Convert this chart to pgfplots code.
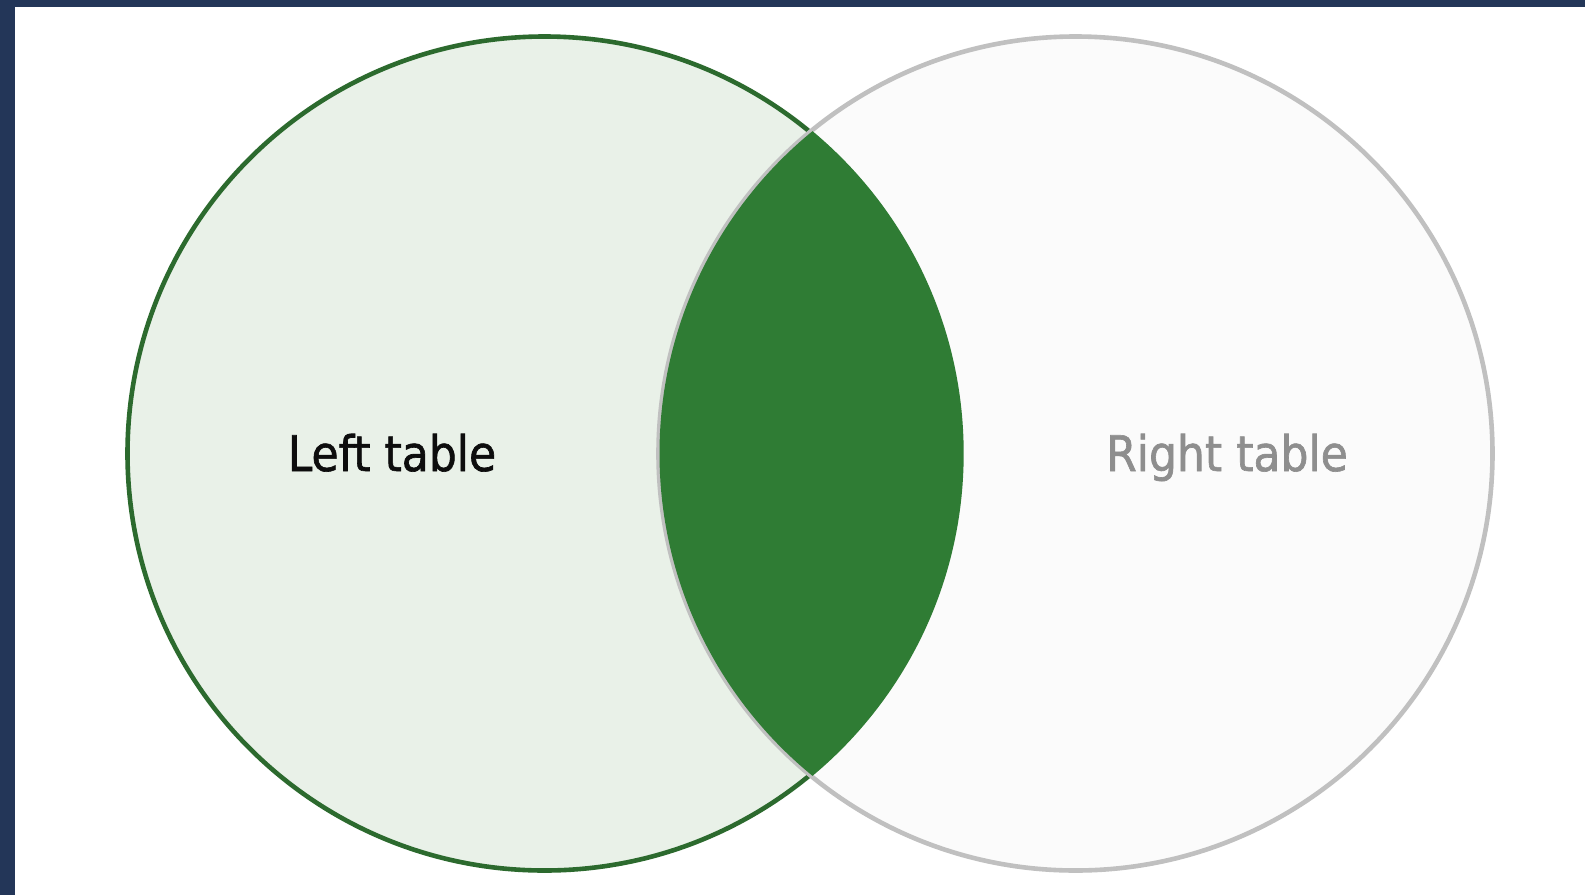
\documentclass[border=0pt]{standalone}
\usepackage{pgfplots}
\pgfplotsset{compat=1.18}
\usepackage{fontspec}
\setmainfont{DejaVu Sans Condensed}
\newfontfamily\labelfont[FakeBold=1.3,Ligatures=NoCommon]{DejaVu Sans Condensed}
\definecolor{navy}{HTML}{233658}
\definecolor{lightgreen}{HTML}{E9F1E8}
\definecolor{edgegreen}{HTML}{2C6A2E}
\definecolor{lensgreen}{HTML}{2F7C34}
\definecolor{edgegray}{HTML}{C0C0C0}
\definecolor{rightfill}{HTML}{FBFBFB}
\definecolor{textgray}{HTML}{8E8E8E}
\begin{document}
\begin{tikzpicture}
\begin{axis}[
  scale only axis, width=792.5pt, height=447.5pt,
  xmin=0, xmax=1585, ymin=0, ymax=895, y dir=reverse,
  axis lines=none, clip=true,
]
% background
\addplot[fill=navy, draw=none] coordinates {(0,0) (1585,0) (1585,895) (0,895)} -- cycle;
\addplot[fill=white, draw=none] coordinates {(15,7) (1585,7) (1585,895) (15,895)} -- cycle;
% left circle
\draw[fill=lightgreen, draw=edgegreen, line width=2.3pt] (axis cs:544.5,453.5) circle[radius=208.5pt];
% right circle
\draw[fill=rightfill, draw=edgegray, line width=2.3pt] (axis cs:1075.5,453.5) circle[radius=208.5pt];
% intersection
\begin{scope}
\clip (axis cs:544.5,453.5) circle[radius=209.6pt];
\fill[lensgreen] (axis cs:1075.5,453.5) circle[radius=208pt];
\end{scope}
\node[anchor=base, font=\labelfont\fontsize{24.5}{28}\selectfont, text=black!95] at (axis cs:392,471) {Left table};
\node[anchor=base, font=\labelfont\fontsize{24.5}{28}\selectfont, text=textgray] at (axis cs:1227,471) {Right table};
\end{axis}
\end{tikzpicture}
\end{document}
